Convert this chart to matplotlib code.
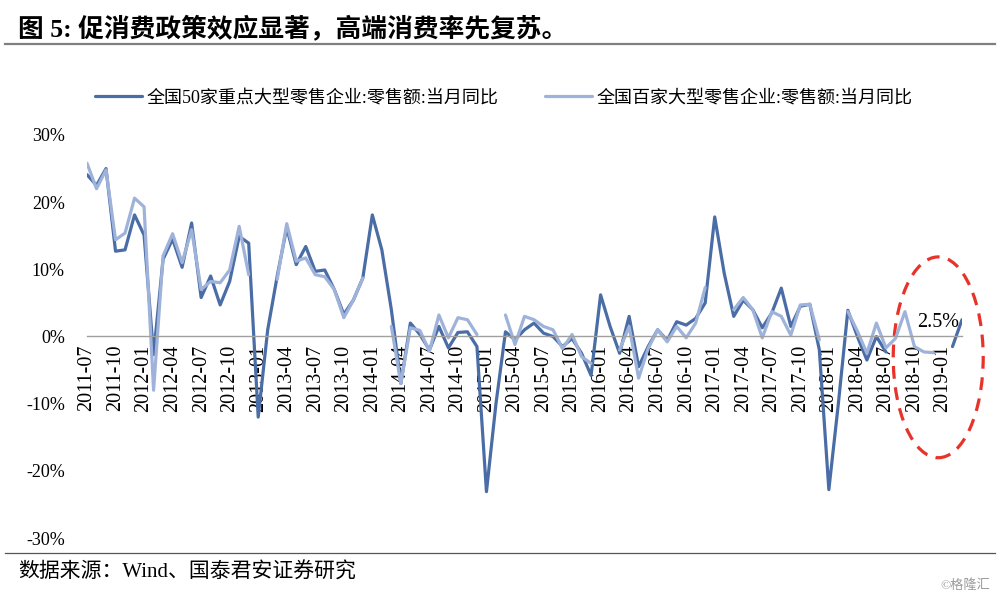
import numpy as np
import pandas as pd
import matplotlib
matplotlib.use("Agg")
import matplotlib.pyplot as plt
from matplotlib.lines import Line2D
from matplotlib.patches import Ellipse

nan = np.nan

# monthly, 2011-07 .. 2019-03
months = pd.period_range("2011-07", periods=93, freq="M").strftime("%Y-%m").tolist()

# 全国50家重点大型零售企业:零售额:当月同比 (%)
top50 = [24.1, 22.5, 25.0, 12.7, 12.9, 18.1, 15.1, -2.7, 11.5, 14.5,
         10.3, 16.9, 5.8, 9.0, 4.7, 8.2, 14.9, 13.9, -12.0, 1.0,
         9.0, 16.2, 10.7, 13.4, 9.7, 9.9, 7.0, 3.3, 5.4, 8.7,
         18.1, 12.9, 4.0, -7.0, 2.0, 0.3, -2.0, 1.5, -1.7, 0.6,
         0.7, -1.5, -23.1, -10.0, 0.7, -0.5, 1.0, 2.0, 0.5, 0.0,
         -1.5, -0.3, -2.5, -5.8, 6.2, 1.5, -2.5, 3.0, -4.5, -1.5,
         1.0, -0.6, 2.2, 1.7, 2.7, 5.0, 17.8, 9.4, 3.0, 5.4,
         4.0, 1.3, 3.5, 7.2, 1.5, 4.5, 4.8, -2.0, -22.8, -10.0,
         3.9, 0.0, -3.5, 0.0, -2.3, nan, nan, nan, nan, nan,
         nan, -1.5, 2.5]

# 全国百家大型零售企业:零售额:当月同比 (%)
top100 = [25.8, 22.0, 24.8, 14.4, 15.4, 20.6, 19.3, -8.0, 12.0, 15.3,
          11.0, 15.9, 7.0, 8.2, 8.0, 9.9, 16.4, 9.2, nan, nan,
          8.5, 16.8, 11.2, 11.7, 9.2, 8.9, 7.0, 2.8, 5.4, 8.7,
          nan, nan, 1.5, -7.0, 1.3, 0.9, -2.2, 3.2, -0.2, 2.8,
          2.5, 0.3, nan, nan, 3.2, -1.2, 3.0, 2.5, 1.5, 1.0,
          -1.8, 0.3, -3.0, -4.0, nan, nan, -2.0, 1.5, -6.2, -1.8,
          1.0, -0.8, 1.5, -0.2, 2.0, 7.3, nan, nan, 4.0, 5.8,
          4.0, -0.2, 3.7, 3.0, 0.2, 4.7, 4.8, -0.5, nan, nan,
          3.7, 0.8, -2.5, 2.0, -1.7, -0.3, 3.7, -1.5, -2.3, -2.4,
          nan, nan, nan]

label50 = "全国50家重点大型零售企业:零售额:当月同比"
label100 = "全国百家大型零售企业:零售额:当月同比"
yticks = [-30, -20, -10, 0, 10, 20, 30]

# latin glyphs in serif, chinese falls through to Noto CJK
mixed = ["Liberation Serif", "Noto Sans CJK SC", "DejaVu Sans"]
serif = ["Liberation Serif", "DejaVu Serif"]

fig = plt.figure(figsize=(10, 6.01), dpi=100)
ax = fig.add_axes([0.087, 0.1048, 0.875, 0.6706])

x = np.arange(len(months))
ax.plot(x, top50, color="#4a6da6", lw=2.3, solid_joinstyle="round",
        solid_capstyle="round", label=label50)
ax.plot(x, top100, color="#9fb3da", lw=2.3, solid_joinstyle="round",
        solid_capstyle="round", label=label100)

ax.set_xlim(0, len(months) - 1)
ax.set_ylim(-30, 30)

# category axis crosses at 0
for s in ["top", "right", "left"]:
    ax.spines[s].set_visible(False)
ax.spines["bottom"].set_position(("data", 0))
ax.spines["bottom"].set_color("#a0a0a0")
ax.spines["bottom"].set_linewidth(1.0)

ax.set_xticks(x[::3])
ax.set_xticklabels(months[::3], rotation=90, fontsize=14.5, family=serif)
ax.set_yticks(yticks)
ax.set_yticklabels([f"{v}%" for v in yticks], fontsize=13, family=serif)
ax.tick_params(axis="x", length=0, pad=6)
ax.tick_params(axis="y", length=0, pad=16)

# highlight latest reading
ax.text(87.3, 2.1, f"{top50[-1]}%", fontsize=14.5, family=serif,
        ha="left", va="center")
ax.add_patch(Ellipse((89.5, -3.1), 9.46, 29.9, fill=False, edgecolor="#e8332a",
                     lw=2.3, linestyle=(0, (4, 2.7)), clip_on=False))

leg = ax.legend(loc="center", bbox_to_anchor=(0.504, 1 - 98 / 601),
                bbox_transform=fig.transFigure, ncol=2, frameon=False,
                prop={"family": mixed, "size": 13}, handlelength=2.6,
                handletextpad=0.25, columnspacing=2.6)

# header / footer
fig.text(0.018, 1 - 28 / 601, "图 5: 促消费政策效应显著，高端消费率先复苏。",
         fontsize=18.5, weight="bold", family=mixed, va="center")
fig.add_artist(Line2D([0.005, 0.995], [1 - 44 / 601] * 2, color="#7f7f7f", lw=1.6))
fig.add_artist(Line2D([0.005, 0.995], [1 - 553 / 601] * 2, color="#555555", lw=0.9))
fig.text(0.018, 1 - 573 / 601, "数据来源：Wind、国泰君安证券研究",
         fontsize=15, family=mixed, va="center")
fig.text(0.99, 1 - 586 / 601, "©格隆汇", fontsize=9.5, family=mixed,
         color="#9a9a9a", ha="right", va="center")

fig.savefig("out.png", dpi=100)
